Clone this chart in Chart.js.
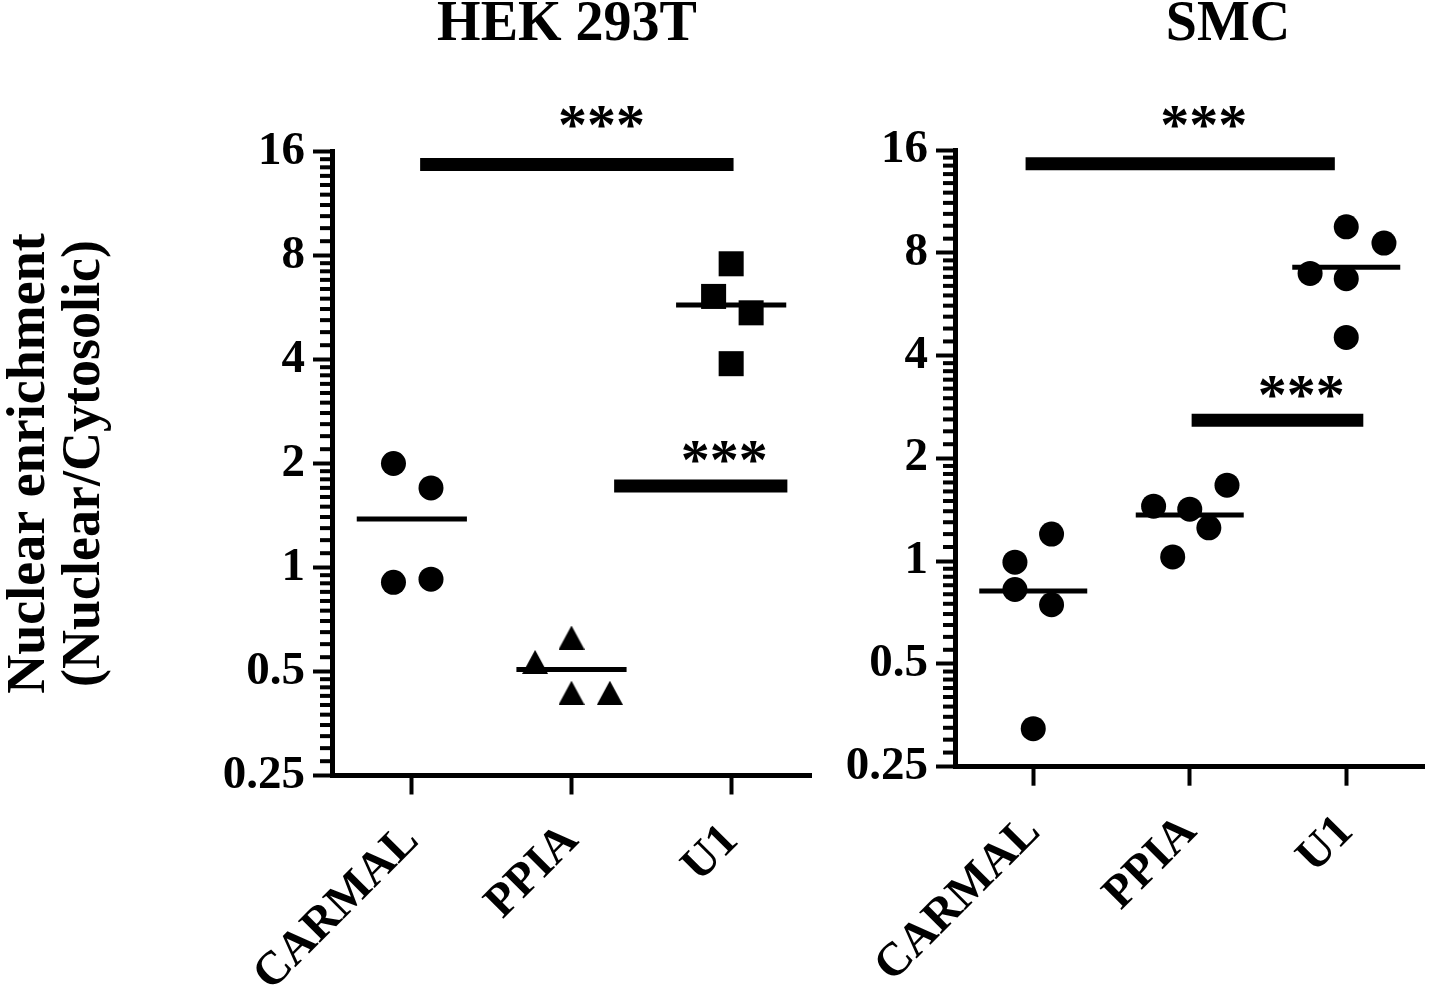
<!DOCTYPE html>
<html><head><meta charset="utf-8">
<script src="https://cdn.jsdelivr.net/npm/chart.js@4.4.1/dist/chart.umd.min.js"></script>
<style>
html,body{margin:0;padding:0;background:#fff;width:1437px;height:990px;overflow:hidden}
#c1{position:absolute;left:0;top:0}
#c2{position:absolute;left:830px;top:0}
</style></head><body>
<canvas id="c1" width="830" height="990"></canvas>
<canvas id="c2" width="607" height="990"></canvas>
<script>
// ---------------- data ----------------
const categories = ['CARMAL', 'PPIA', 'U1'];
const yTickValues = [0.25, 0.5, 1, 2, 4, 8, 16];
const panelTitles = ['HEK 293T', 'SMC'];
const yAxisTitle = ['Nuclear enrichment', '(Nuclear/Cytosolic)'];
const starLabel = '***';

// HEK 293T (values and horizontal spread within each category, in category units)
const hekCarmal = [2.0, 1.70, 0.906, 0.925];
const hekCarmalX = [-0.115, 0.12, -0.115, 0.12];
const hekPpia = [0.627, 0.533, 0.434, 0.434];
const hekPpiaX = [0, -0.228, 0, 0.24];
const hekU1 = [7.57, 6.09, 5.46, 3.89];
const hekU1X = [0, -0.11, 0.125, 0];

// SMC
const smcCarmal = [0.993, 1.20, 0.826, 0.745, 0.323];
const smcCarmalX = [-0.117, 0.117, -0.117, 0.117, 0];
const smcPpia = [1.449, 1.42, 1.669, 1.252, 1.029];
const smcPpiaX = [-0.231, 0, 0.238, 0.122, -0.109];
const smcU1 = [9.53, 8.54, 6.96, 6.72, 4.52];
const smcU1X = [0, 0.241, -0.231, 0, 0];

// significance bars (x in category units, y in data units)
const hekSigStart = [0.052, 1.267];
const hekSigEnd = [2.015, 2.352];
const hekSigY = [14.67, 1.722];
const hekStarX = [1.188, 1.957];
const hekStarY = [20.3, 2.17];

const smcSigStart = [-0.049, 1.012];
const smcSigEnd = [1.927, 2.109];
const smcSigY = [14.58, 2.588];
const smcStarX = [1.09, 1.713];
const smcStarY = [20.1, 3.25];

// ---------------- drawing ----------------
const FONT = "'Liberation Serif', 'Times New Roman', Times, serif";
const MEAN_HALF = 0.345;

function mean(a) { return a.reduce((s, v) => s + v, 0) / a.length; }

function triangleImage(w, h) {
  const c = document.createElement('canvas');
  c.width = w; c.height = h;
  const g = c.getContext('2d');
  g.fillStyle = '#000';
  g.beginPath(); g.moveTo(w / 2, 0); g.lineTo(w, h); g.lineTo(0, h); g.closePath(); g.fill();
  return c;
}

const decorPlugin = {
  id: 'panelDecor',
  afterDraw(chart, args, o) {
    const ctx = chart.ctx, x = chart.scales.x, y = chart.scales.y;
    ctx.save();
    ctx.fillStyle = '#000';
    // minor ticks on the log2 axis
    for (let i = 0; i < yTickValues.length - 1; i++) {
      const b = yTickValues[i];
      for (let k = 1; k <= 9; k++) {
        const py = y.getPixelForValue(b * (1 + k / 10));
        ctx.fillRect(y.right - 12, py - 2, 12, 4);
      }
    }
    // significance stars
    ctx.font = 'bold 58px ' + FONT;
    ctx.textAlign = 'center';
    ctx.textBaseline = 'alphabetic';
    o.starX.forEach((sx, i) => {
      ctx.fillText(starLabel, x.getPixelForValue(sx), y.getPixelForValue(o.starY[i]) + 28);
    });
    // panel title
    ctx.font = 'bold 56px ' + FONT;
    ctx.textBaseline = 'middle';
    ctx.fillText(o.title, o.titleX, o.titleY);
    ctx.restore();
  }
};

function buildChart(canvasId, cfg) {
  const datasets = [];
  cfg.groups.forEach((g, i) => {
    const m = mean(g.values);
    datasets.push({
      data: [{ x: i - MEAN_HALF, y: m }, { x: i + MEAN_HALF, y: m }],
      showLine: true, borderColor: '#000', borderWidth: 5, pointRadius: 0, borderCapStyle: 'butt'
    });
    datasets.push({
      data: g.values.map((v, j) => ({ x: i + g.xs[j], y: v })),
      showLine: false, pointStyle: g.style, pointRadius: g.radius,
      pointBackgroundColor: '#000', pointBorderColor: '#000', pointBorderWidth: 0
    });
  });
  cfg.sigStart.forEach((s, k) => {
    datasets.push({
      data: [{ x: s, y: cfg.sigY[k] }, { x: cfg.sigEnd[k], y: cfg.sigY[k] }],
      showLine: true, borderColor: '#000', borderWidth: 13, pointRadius: 0, borderCapStyle: 'butt'
    });
  });

  const tickFont = { family: FONT, size: 47, weight: 'bold' };
  return new Chart(document.getElementById(canvasId), {
    type: 'scatter',
    data: { datasets },
    plugins: [decorPlugin],
    options: {
      responsive: false, animation: false, devicePixelRatio: 1,
      clip: false,
      layout: { padding: { top: cfg.top, right: cfg.padRight, left: 0, bottom: 0 } },
      plugins: {
        legend: { display: false }, tooltip: { enabled: false }, title: { display: false },
        panelDecor: { starX: cfg.starX, starY: cfg.starY, title: cfg.title, titleX: cfg.titleX, titleY: 26 }
      },
      scales: {
        x: {
          type: 'linear', min: -0.5, max: 2.5,
          afterBuildTicks: a => { a.ticks = categories.map((c, i) => ({ value: i })); },
          afterFit: s => { s.height = cfg.xAxisHeight; },
          grid: { drawOnChartArea: false, drawTicks: true, tickLength: 19, tickWidth: 4, tickColor: '#000' },
          border: { display: true, width: 5, color: '#000' },
          ticks: {
            autoSkip: false, minRotation: 45, maxRotation: 45, padding: 19, color: '#000',
            font: tickFont, callback: v => categories[v]
          }
        },
        y: {
          type: 'logarithmic', min: 0.25, max: 16,
          afterBuildTicks: a => { a.ticks = yTickValues.map(v => ({ value: v })); },
          afterFit: s => { s.width = cfg.yAxisWidth; },
          grid: { drawOnChartArea: false, drawTicks: true, tickLength: 19, tickWidth: 4, tickColor: '#000' },
          border: { display: true, width: 5, color: '#000' },
          ticks: { autoSkip: false, padding: 8, color: '#000', font: tickFont, callback: v => String(v) },
          title: cfg.yTitle ? {
            display: true, text: yAxisTitle, color: '#000',
            font: { family: FONT, size: 54, weight: 'bold', lineHeight: 1.03 },
            padding: { top: 2, bottom: 0 }
          } : { display: false }
        }
      }
    }
  });
}

const tri = triangleImage(26, 24);

buildChart('c1', {
  groups: [
    { values: hekCarmal, xs: hekCarmalX, style: 'circle', radius: 12.5 },
    { values: hekPpia, xs: hekPpiaX, style: tri, radius: 13 },
    { values: hekU1, xs: hekU1X, style: 'rect', radius: 17.7 }
  ],
  sigStart: hekSigStart, sigEnd: hekSigEnd, sigY: hekSigY,
  starX: hekStarX, starY: hekStarY,
  title: panelTitles[0], titleX: 567,
  top: 151.5, padRight: 19, yAxisWidth: 332, xAxisHeight: 214.5, yTitle: true
});

buildChart('c2', {
  groups: [
    { values: smcCarmal, xs: smcCarmalX, style: 'circle', radius: 12.5 },
    { values: smcPpia, xs: smcPpiaX, style: 'circle', radius: 12.5 },
    { values: smcU1, xs: smcU1X, style: 'circle', radius: 12.5 }
  ],
  sigStart: smcSigStart, sigEnd: smcSigEnd, sigY: smcSigY,
  starX: smcStarX, starY: smcStarY,
  title: panelTitles[1], titleX: 398,
  top: 150, padRight: 6, yAxisWidth: 125, xAxisHeight: 223.3, yTitle: false
});
</script>
</body></html>
